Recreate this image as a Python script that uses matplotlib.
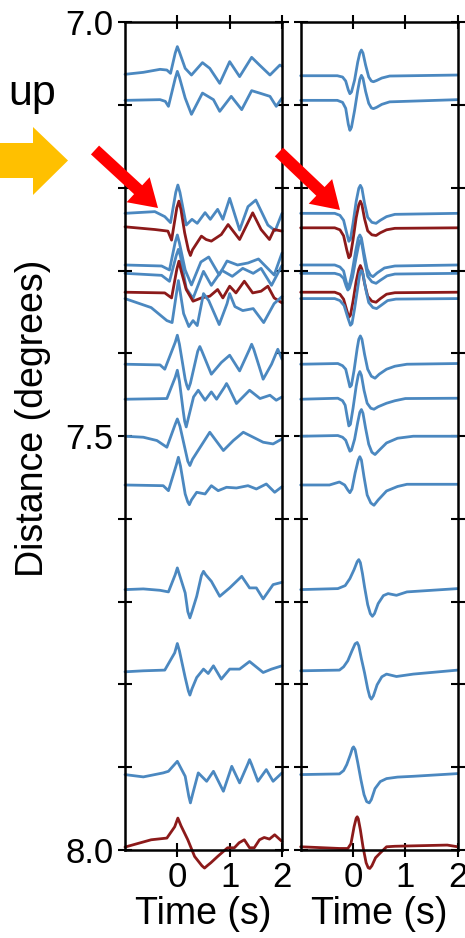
import numpy as np
import matplotlib
matplotlib.use("Agg")
import matplotlib.pyplot as plt
from matplotlib.patches import Polygon

plt.rcParams['font.family'] = ['Liberation Sans', 'DejaVu Sans']

# ---------------- data ----------------
# station distances (degrees)
DIST = [7.0625, 7.0943, 7.2308, 7.2483, 7.2932, 7.3033, 7.3261, 7.3338,
        7.4131, 7.4554, 7.5001, 7.5590, 7.6854, 7.7835, 7.9089, 7.9961]
# trace colour class: 'b' = blue, 'r' = highlighted (dark red)
KIND = ['b', 'b', 'b', 'r', 'b', 'b', 'r', 'b',
        'b', 'b', 'b', 'b', 'b', 'b', 'b', 'r']
# amplitude unit -> degrees of distance
GAIN = 1.0 / 827.7

# Left panel (observed) traces: times (s) and amplitudes (positive = up)
LEFT_T = [
    [-1.0, -0.65, -0.33, -0.2, -0.13, -0.04, 0.0, 0.04, 0.15, 0.27, 0.48, 0.62, 0.81, 1.0, 1.19, 1.42, 1.57, 1.77, 1.96, 2.0],
    [-1.0, -0.33, -0.23, -0.17, -0.04, 0.0, 0.04, 0.15, 0.27, 0.48, 0.69, 0.81, 1.03, 1.23, 1.42, 1.57, 1.77, 1.89, 2.0],
    [-1.0, -0.43, -0.24, -0.13, -0.03, 0.01, 0.05, 0.17, 0.28, 0.38, 0.53, 0.63, 0.77, 0.87, 1.0, 1.19, 1.35, 1.5, 1.73, 1.87, 2.0],
    [-1.0, -0.43, -0.18, -0.11, -0.01, 0.03, 0.07, 0.14, 0.21, 0.25, 0.29, 0.46, 0.55, 0.65, 0.84, 0.97, 1.19, 1.44, 1.6, 1.76, 1.85, 2.0],
    [-1.0, -0.3, -0.15, -0.04, 0.0, 0.04, 0.15, 0.27, 0.45, 0.6, 0.8, 0.95, 1.15, 1.35, 1.55, 1.7, 1.85, 2.0],
    [-1.0, -0.3, -0.15, -0.02, 0.02, 0.06, 0.17, 0.3, 0.5, 0.65, 0.85, 1.05, 1.25, 1.45, 1.6, 1.8, 2.0],
    [-1.0, -0.24, -0.11, -0.01, 0.03, 0.07, 0.17, 0.3, 0.46, 0.62, 0.77, 0.87, 1.0, 1.12, 1.28, 1.44, 1.6, 1.73, 1.85, 2.0],
    [-1.0, -0.5, -0.2, -0.1, 0.02, 0.12, 0.22, 0.3, 0.38, 0.5, 0.6, 0.8, 0.95, 1.0, 1.1, 1.25, 1.45, 1.65, 1.85, 2.0],
    [-1.0, -0.33, -0.24, -0.04, 0.0, 0.04, 0.15, 0.18, 0.21, 0.25, 0.39, 0.43, 0.47, 0.65, 0.84, 1.0, 1.19, 1.38, 1.42, 1.46, 1.64, 1.8, 1.92, 2.0],
    [-1.0, -0.2, -0.04, 0.0, 0.04, 0.11, 0.14, 0.17, 0.21, 0.31, 0.4, 0.53, 0.65, 0.75, 0.9, 0.94, 0.98, 1.13, 1.38, 1.58, 1.77, 1.89, 2.0],
    [-1.0, -0.65, -0.39, -0.2, -0.04, 0.0, 0.05, 0.2, 0.24, 0.29, 0.62, 0.88, 1.07, 1.26, 1.45, 1.64, 1.83, 2.0],
    [-1.0, -0.27, -0.17, -0.02, 0.02, 0.06, 0.15, 0.2, 0.23, 0.27, 0.37, 0.53, 0.65, 0.78, 0.94, 1.13, 1.35, 1.51, 1.7, 1.86, 2.0],
    [-1.0, -0.65, -0.33, -0.17, -0.04, 0.0, 0.04, 0.15, 0.2, 0.24, 0.28, 0.37, 0.46, 0.5, 0.54, 0.65, 0.81, 1.0, 1.23, 1.38, 1.51, 1.64, 1.83, 2.0],
    [-1.0, -0.65, -0.24, -0.05, 0.0, 0.04, 0.15, 0.21, 0.24, 0.28, 0.37, 0.5, 0.59, 0.69, 0.84, 1.0, 1.19, 1.38, 1.64, 1.8, 2.0],
    [-1.0, -0.65, -0.27, -0.17, 0.0, 0.15, 0.22, 0.25, 0.29, 0.4, 0.56, 0.69, 0.88, 1.04, 1.19, 1.35, 1.38, 1.42, 1.54, 1.7, 1.83, 2.0],
    [-1.0, -0.5, -0.2, -0.05, 0.01, 0.07, 0.2, 0.33, 0.47, 0.52, 0.57, 0.64, 0.77, 0.96, 1.09, 1.18, 1.28, 1.38, 1.47, 1.57, 1.66, 1.76, 1.86, 2.0],
]
LEFT_A = [
    [-0.3, 1.7, 4.7, 4.0, 0.7, 21, 27.4, 22, 5.7, -1.0, 11.4, 5.7, -9.3, 12.4, -2.6, 16.7, 9.0, -1.0, 9.0, 7.7],
    [0, 0.7, -1, -6, 22, 29, 23, 2.3, -14, 7.3, 0.7, -11, 4, -9.3, 9.7, 7.3, 4, -6, 2.3],
    [0, 1.7, -3.3, -9.3, 21, 28.3, 21, -11.7, -6, -10, 0.7, -6, 4, -6, 15, -16.7, 6.7, 13.3, -11.7, -17.3, 0],
    [1, -1.7, -3.3, -12.3, 20, 26.7, 18, -5, -22, -27.7, -22, -8.3, -11.7, -13.3, -6.7, 3.3, -11.7, 15, -1.7, -11.7, -1.7, -3.3],
    [0, -1, -5, 23, 30, 22, -5, -20, 3, 8, -10, 4, 0, 2, 6, -2, -10, 12],
    [0, -2, -8, 18, 24, 17, -15, -25, 2, -12, 3, -3, 5, 0, 5, -12, 8],
    [0, -0.7, -5.7, 23, 31, 22, 2.7, -9, -5.7, -4, 2.7, -5.7, 6, -0.7, 11, -0.7, 1, 6, -5.7, -10.7],
    [0, -9, -22, -24, 18, -15, -28, -22, -27, 5, -2, -26, -5, 5, -8, -12, -10, -24, -5, 2],
    [0, -0.7, -5, 22, 29, 20, -15, -21, -25, -19, 13, 17.7, 13, -10, 1.7, 9, -6.7, 15, 20, 15, -15, 0, 15, 5],
    [0, 0.7, 22, 29, 18, -11, -22, -27.7, -19, 2.3, 9, -1, 7.3, 0, 12, 15.7, 12, -4.3, 9, 0.7, 4, -1, 2.3],
    [0, -1, -4.3, -11, 12, 17.3, 10, -25, -29.3, -23, 4, -14.3, -4.3, 4, -1, -6, -7.7, -2.7],
    [0, -0.7, -5.7, 20, 27.7, 19, -9, -17, -19.7, -15, -7.3, -9, -0.7, -5.7, -2.3, -3, -0.7, -4, 1, -7.3, -1.7],
    [0, 0.7, -0.7, -2.3, 15, 21.7, 15, -3.3, -22, -28.3, -22, -6.7, 14, 18.3, 15, 8.3, -6.7, 1.7, 13.3, 1.7, 1.7, -9.3, 5, 7.3],
    [-1, 0, 0.7, 18, 27.3, 20, -6.7, -20, -24.3, -18, -6.7, 1.7, -2.7, 5, -8.3, 1.7, 1.7, 9.3, -1.7, 1.7, 5],
    [0, -2.3, 1.7, 3.3, 13.3, -1.7, -22, -28.3, -20, 1.7, -6.7, 3.3, -16.7, 8.3, -8.3, 11, 15, 10, -6.7, 5, -6.7, 1.7],
    [-0.3, 7, 8.7, 20, 28.7, 21, 7, -9.7, -19, -21.3, -19, -16, -9.7, -1, -1, 4, 7, -1, -1, 7, 9.3, 7.7, 12, 5.3],
]

# Right panel (synthetic) traces
RIGHT_T = [
    [-1.0, -0.3, -0.2, -0.14, -0.09, -0.06, -0.03, 0.03, 0.09, 0.13, 0.16, 0.19, 0.24, 0.3, 0.35, 0.39, 0.45, 0.55, 0.7, 2.0],
    [-1.0, -0.3, -0.2, -0.14, -0.09, -0.06, -0.03, 0.03, 0.09, 0.13, 0.16, 0.19, 0.24, 0.3, 0.35, 0.39, 0.45, 0.55, 0.7, 2.0],
    [-1.0, -0.35, -0.25, -0.18, -0.12, -0.08, -0.05, 0.0, 0.06, 0.11, 0.14, 0.17, 0.22, 0.28, 0.36, 0.44, 0.52, 0.64, 0.8, 2.0],
    [-1.0, -0.35, -0.25, -0.18, -0.12, -0.08, -0.05, 0.0, 0.06, 0.11, 0.14, 0.17, 0.22, 0.28, 0.36, 0.44, 0.52, 0.64, 0.8, 2.0],
    [-1.0, -0.35, -0.25, -0.18, -0.13, -0.1, -0.07, -0.02, 0.05, 0.1, 0.13, 0.16, 0.21, 0.27, 0.33, 0.38, 0.46, 0.6, 0.8, 2.0],
    [-1.0, -0.35, -0.25, -0.18, -0.13, -0.1, -0.07, -0.01, 0.06, 0.11, 0.14, 0.17, 0.22, 0.28, 0.36, 0.44, 0.52, 0.65, 0.8, 2.0],
    [-1.0, -0.35, -0.25, -0.18, -0.12, -0.08, -0.05, 0.0, 0.06, 0.11, 0.14, 0.17, 0.22, 0.28, 0.36, 0.44, 0.52, 0.64, 0.8, 2.0],
    [-1.0, -0.35, -0.25, -0.17, -0.1, -0.05, -0.02, 0.03, 0.09, 0.13, 0.16, 0.19, 0.24, 0.3, 0.38, 0.45, 0.53, 0.66, 0.82, 2.0],
    [-1.0, -0.29, -0.2, -0.14, -0.09, -0.06, -0.03, 0.02, 0.08, 0.11, 0.14, 0.17, 0.22, 0.28, 0.35, 0.42, 0.5, 0.64, 0.8, 1.03, 2.0],
    [-1.0, -0.29, -0.2, -0.15, -0.11, -0.08, -0.05, 0.0, 0.06, 0.1, 0.13, 0.16, 0.21, 0.27, 0.34, 0.4, 0.48, 0.64, 0.8, 1.0, 2.0],
    [-1.0, -0.29, -0.2, -0.14, -0.09, -0.06, -0.03, 0.03, 0.09, 0.13, 0.16, 0.19, 0.24, 0.3, 0.36, 0.42, 0.5, 0.64, 0.85, 1.15, 2.0],
    [-1.0, -0.45, -0.26, -0.16, -0.1, -0.06, -0.02, 0.04, 0.1, 0.13, 0.16, 0.21, 0.27, 0.34, 0.4, 0.48, 0.64, 0.85, 1.03, 2.0],
    [-1.0, -0.29, -0.15, -0.06, 0.02, 0.08, 0.11, 0.14, 0.18, 0.22, 0.28, 0.33, 0.37, 0.41, 0.48, 0.58, 0.67, 0.83, 1.03, 2.0],
    [-1.0, -0.26, -0.18, -0.1, -0.02, 0.04, 0.08, 0.11, 0.16, 0.22, 0.28, 0.32, 0.35, 0.39, 0.46, 0.55, 0.64, 0.83, 1.15, 2.0],
    [-1.0, -0.26, -0.18, -0.12, -0.05, -0.01, 0.01, 0.04, 0.09, 0.15, 0.21, 0.26, 0.31, 0.35, 0.42, 0.52, 0.64, 0.85, 1.15, 2.0],
    [-1.0, -0.26, -0.1, -0.04, 0.02, 0.06, 0.08, 0.1, 0.14, 0.19, 0.25, 0.29, 0.32, 0.36, 0.43, 0.51, 0.64, 0.8, 1.8, 2.0],
]
RIGHT_A = [
    [-1.7, -1.7, -3, -7, -16, -19.7, -18, -6, 12, 21, 24, 21, 9, -3, -7, -7.7, -6.5, -4, -2, -1],
    [0, 0, -2, -8, -24, -30, -27, -10, 10, 21, 25, 22, 9, -3, -7.5, -8.3, -7, -4, -1.5, 0.7],
    [0, 0, -2, -7, -20, -28, -26, -10, 12, 25, 28, 25, 10, -4, -9, -10, -7, -3.3, -1, 0],
    [0, 0, -2, -8, -22, -30, -28, -12, 10, 23, 26.7, 23, 9, -3, -7, -7.7, -5, -2, -0.5, 0],
    [0, 0, -2, -6, -17, -21.7, -20, -8, 14, 27, 30, 27, 12, -4, -10, -11.7, -8, -3, -1, 0],
    [0, 0, -1.5, -5, -13, -16.7, -15, -4, 16, 29, 33, 29, 13, -3, -8.5, -10, -7, -2.5, -0.7, 0],
    [0, 0, -2, -7, -18, -25, -23, -9, 11, 23, 26.7, 23, 9, -4, -9, -10, -6.5, -2, -0.5, 0],
    [0, 0, -2, -7, -19, -26.7, -25, -10, 11, 25, 28, 25, 10, -4, -9, -10, -7, -2, -0.5, 0],
    [0, 0.7, -1.5, -5, -16, -22.7, -21, -6, 16, 25, 28.3, 25, 10, -5, -12, -14, -10, -5, -2, 0, 0.7],
    [0, 1, -1.5, -6, -18, -26.7, -25, -9, 13, 24, 27.7, 24, 9, -4, -9, -10, -7.5, -4, -1.5, 0.7, 1],
    [0, 0.7, -1, -4, -11, -15, -14, -3, 14, 24, 26.7, 23, 8, -8, -16, -18.3, -14, -6.7, -2, 0, 0],
    [0, 0, 3, 0, -5, -7.7, -4, 12, 25, 28.3, 25, 8, -10, -18, -20.3, -15, -6, -1.5, 0.7, 0.7],
    [0, 1, 4, 11, 20, 28, 30, 27, 16, 2.7, -15, -24, -26.7, -24, -14, -6, -4, -5.7, -2.3, 1],
    [0, 0.7, 4, 10, 20, 27, 28.3, 25, 12, -2, -18, -26, -28.3, -25, -14, -6, -3.3, -5.7, -3.3, 0.7],
    [0, 0.7, 4, 10, 20, 26.5, 27.7, 25, 12, -5, -20, -27, -28.3, -25, -14, -7, -4, -2.5, -1.7, 1],
    [0, -1.7, -1.7, 3, 20, 28.5, 30, 28, 17, 0, -16, -21, -21.7, -19, -11, -6.7, 0, 0.5, 1.7, 0],
]

XTICKS = [0, 1, 2]
YTICKS = [7.0, 7.1, 7.2, 7.3, 7.4, 7.5, 7.6, 7.7, 7.8, 7.9, 8.0]
YTICK_LABELS = ['7.0', '', '', '', '', '7.5', '', '', '', '', '8.0']
COLOR = {'b': '#4b88c0', 'r': '#8c1a1a'}

# ---------------- figure ----------------
W, H = 465, 938
fig = plt.figure(figsize=(W / 100, H / 100), dpi=100)


def fx(x):
    return x / W


def fy(y):
    return 1 - y / H


axL = fig.add_axes([fx(125), fy(850), 157 / W, 827.7 / H])
axR = fig.add_axes([fx(300.7), fy(850), 157 / W, 827.7 / H])

for ax, TT, AA in ((axL, LEFT_T, LEFT_A), (axR, RIGHT_T, RIGHT_A)):
    for d, k, t, a in zip(DIST, KIND, TT, AA):
        ax.plot(t, d - np.asarray(a) * GAIN, color=COLOR[k], lw=2.0,
                solid_joinstyle='round', solid_capstyle='round',
                clip_on=False, zorder=3)
    ax.set_xlim(-1, 2)
    ax.set_ylim(8.0, 7.0)
    ax.set_xticks(XTICKS)
    ax.set_xticklabels([str(v) for v in XTICKS])
    ax.set_yticks(YTICKS)
    for s in ax.spines.values():
        s.set_linewidth(1.8)
        s.set_zorder(4)
    ax.tick_params(direction='inout', length=9.5, width=1.5, labelsize=25,
                   left=True, right=True, top=True, bottom=True, pad=3.5)
    ax.set_xlabel('Time (s)', fontsize=27)
    ax.xaxis.set_label_coords(0.5, -0.056)

axL.set_yticklabels(YTICK_LABELS)
axR.set_yticklabels([])
axL.set_ylabel('Distance (degrees)', fontsize=27)
axL.yaxis.set_label_coords(-0.471, 0.522)

# ---------------- annotations ----------------
fig.text(fx(56), fy(105), 'up', fontsize=31, ha='right', va='baseline')

orange = [(-5, 143), (33, 143), (33, 127), (68, 160.5), (33, 195), (33, 178), (-5, 178)]
fig.patches.append(Polygon([(fx(x), fy(y)) for x, y in orange], closed=True,
                           transform=fig.transFigure, facecolor='#FFC000',
                           edgecolor='none', figure=fig))


def arrow_poly(tail, tip, sw, hl, hw):
    tail = np.array(tail, float)
    tip = np.array(tip, float)
    d = (tip - tail) / np.linalg.norm(tip - tail)
    n = np.array([-d[1], d[0]])
    base = tip - d * hl
    pts = [tail + n * sw / 2, base + n * sw / 2, base + n * hw / 2, tip,
           base - n * hw / 2, base - n * sw / 2, tail - n * sw / 2]
    return [(fx(p[0]), fy(p[1])) for p in pts]


for tail, tip in (((95, 150), (158, 208)), ((279, 152), (340, 210))):
    fig.patches.append(Polygon(arrow_poly(tail, tip, 12, 27, 34), closed=True,
                               transform=fig.transFigure, facecolor='#FF0000',
                               edgecolor='none', figure=fig, zorder=10))

fig.savefig('out.png', dpi=100)
